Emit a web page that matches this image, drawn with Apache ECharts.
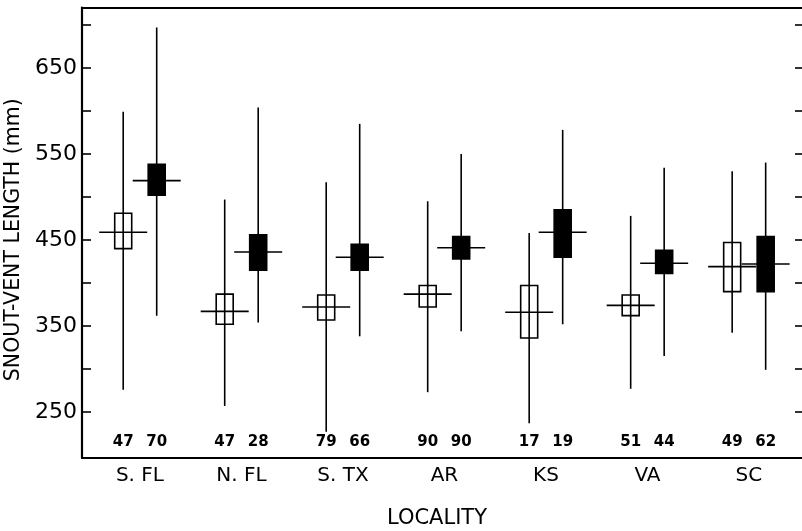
<!DOCTYPE html>
<html>
<head>
<meta charset="utf-8">
<script src="https://cdn.jsdelivr.net/npm/echarts@6/dist/echarts.min.js"></script>
<style>
html,body{margin:0;padding:0;background:#fff;}
#chart{width:802px;height:531px;}
</style>
</head>
<body>
<div id="chart"></div>
<script>
// Categories (localities)
const categories = ['S. FL', 'N. FL', 'S. TX', 'AR', 'KS', 'VA', 'SC'];

// Open boxes
const openMin  = [276, 257, 227, 273, 237, 277, 342];
const openMax  = [599, 497, 517, 495, 458, 478, 530];
const openLow  = [440, 352, 357, 372, 336, 362, 390];
const openHigh = [481, 387, 386, 397, 397, 386, 447];
const openMean = [459, 367, 372, 387, 366, 374, 419];
const openN    = [47, 47, 79, 90, 17, 51, 49];

// Filled boxes
const fillMin  = [362, 354, 338, 344, 352, 315, 299];
const fillMax  = [697, 604, 585, 550, 578, 534, 540];
const fillLow  = [502, 415, 415, 428, 430, 411, 390];
const fillHigh = [538, 456, 445, 454, 485, 438, 454];
const fillMean = [519, 436, 430, 441, 459, 423, 422];
const fillN    = [70, 28, 66, 90, 19, 44, 62];

// Axis ticks / labels
const yTicks  = [250, 300, 350, 400, 450, 500, 550, 600, 650, 700];
const yLabels = [250, 350, 450, 550, 650];
const nLabelY = 215;

const FONT = 'DejaVu Sans';
const OFF = 0.165;

function build(minA, maxA, lowA, highA, meanA, nA, off) {
  return categories.map((c, i) => [i + off, minA[i], maxA[i], lowA[i], highA[i], meanA[i], nA[i]]);
}

function makeRender(filled) {
  return function (params, api) {
    const x = api.value(0);
    const pMin = api.coord([x, api.value(1)]);
    const pMax = api.coord([x, api.value(2)]);
    const pLow = api.coord([x, api.value(3)]);
    const pHigh = api.coord([x, api.value(4)]);
    const pMean = api.coord([x, api.value(5)]);
    const pN = api.coord([x, nLabelY]);
    const bw = 17, mw = 24;
    return {
      type: 'group',
      children: [
        { type: 'line', shape: { x1: pMin[0], y1: pMin[1], x2: pMax[0], y2: pMax[1] },
          style: { stroke: '#000', lineWidth: 1.6 } },
        { type: 'rect', shape: { x: pHigh[0] - bw / 2, y: pHigh[1], width: bw, height: pLow[1] - pHigh[1] },
          style: { fill: filled ? '#000' : 'none', stroke: '#000', lineWidth: 1.6 } },
        { type: 'line', shape: { x1: pMean[0] - mw, y1: pMean[1], x2: pMean[0] + mw, y2: pMean[1] },
          style: { stroke: '#000', lineWidth: 1.6 } },
        { type: 'text', style: { text: String(api.value(6)), x: pN[0], y: pN[1], align: 'center',
          verticalAlign: 'middle', fontSize: 15, fontWeight: 'bold', fontFamily: FONT, fill: '#000' } }
      ]
    };
  };
}

const chart = echarts.init(document.getElementById('chart'), null, { renderer: 'canvas' });
const yMin = 196.5, yMax = 720.3;
chart.setOption({
  animation: false,
  backgroundColor: '#fff',
  grid: { left: 82, right: 0, top: 7.5, bottom: 73, containLabel: false, outerBoundsMode: 'none' },
  xAxis: [{
    type: 'value', min: -0.571, max: 6.523, position: 'bottom',
    splitLine: { show: false },
    axisLine: { show: true, onZero: false, lineStyle: { color: '#000', width: 2.2 } },
    axisTick: { show: false },
    axisLabel: {
      customValues: [0, 1, 2, 3, 4, 5, 6],
      formatter: v => categories[Math.round(v)],
      color: '#000', fontSize: 20, fontFamily: FONT, margin: 8
    },
    name: 'LOCALITY', nameLocation: 'middle', nameGap: 50,
    nameTextStyle: { color: '#000', fontSize: 21, fontFamily: FONT, padding: [0, 10, 0, 0] }
  }, {
    type: 'value', min: -0.571, max: 6.523, position: 'top',
    splitLine: { show: false },
    axisLine: { show: true, onZero: false, lineStyle: { color: '#000', width: 2.2 } },
    axisTick: { show: false }, axisLabel: { show: false }
  }],
  yAxis: [{
    type: 'value', min: yMin, max: yMax, position: 'left',
    splitLine: { show: false },
    axisLine: { show: true, onZero: false, lineStyle: { color: '#000', width: 2.2 } },
    axisTick: { show: true, inside: true, length: 9, customValues: yTicks, lineStyle: { color: '#000', width: 1.6 } },
    axisLabel: { customValues: yLabels, color: '#000', fontSize: 22, fontFamily: FONT, margin: 5 },
    name: 'SNOUT-VENT LENGTH (mm)', nameLocation: 'middle', nameGap: 50,
    nameTextStyle: { color: '#000', fontSize: 20.5, fontFamily: FONT, padding: [0, 14, 0, 0] }
  }, {
    type: 'value', min: yMin, max: yMax, position: 'right',
    splitLine: { show: false },
    axisLine: { show: false, onZero: false },
    axisTick: { show: true, inside: true, length: 7, customValues: yTicks, lineStyle: { color: '#000', width: 1.6 } },
    axisLabel: { show: false }
  }],
  series: [{
    type: 'custom', xAxisIndex: 0, yAxisIndex: 0,
    renderItem: makeRender(false),
    data: build(openMin, openMax, openLow, openHigh, openMean, openN, -OFF),
    clip: false
  }, {
    type: 'custom', xAxisIndex: 0, yAxisIndex: 0,
    renderItem: makeRender(true),
    data: build(fillMin, fillMax, fillLow, fillHigh, fillMean, fillN, OFF),
    clip: false
  }]
});
</script>
</body>
</html>
